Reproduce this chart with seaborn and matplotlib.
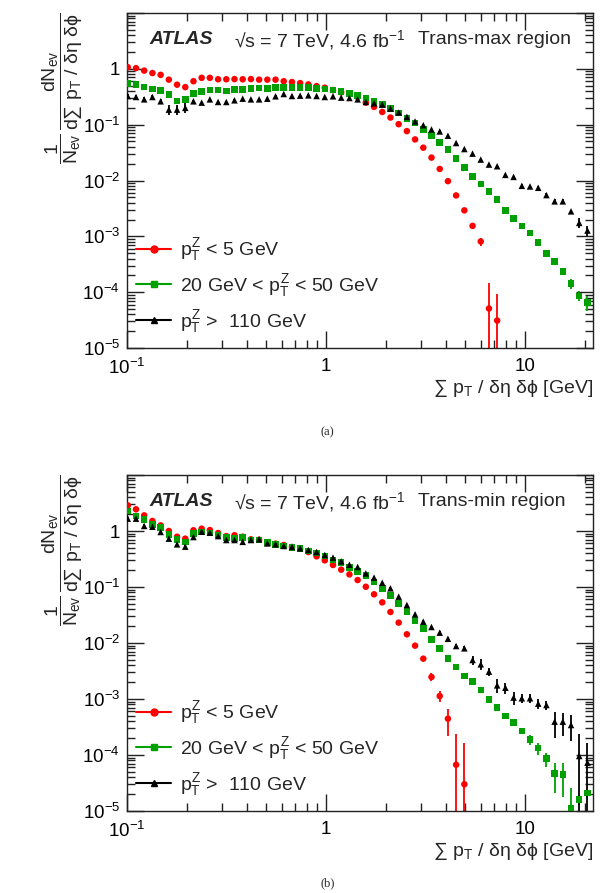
import numpy as np
import pandas as pd
import matplotlib
matplotlib.use("Agg")
import matplotlib.pyplot as plt
import seaborn as sns
from matplotlib.lines import Line2D
from matplotlib.ticker import LogLocator, FuncFormatter, NullFormatter

# ================= data =================
# bin centres of sum pT / deta dphi [GeV]
X_CENTRES = [0.1009, 0.1110, 0.1220, 0.1342, 0.1476, 0.1623, 0.1785, 0.1963, 0.2158, 0.2373,
             0.2609, 0.2870, 0.3156, 0.3470, 0.3816, 0.4196, 0.4614, 0.5074, 0.5579, 0.6135,
             0.6747, 0.7419, 0.8158, 0.8974, 0.9867, 1.085, 1.193, 1.312, 1.443, 1.587,
             1.745, 1.919, 2.110, 2.321, 2.552, 2.806, 3.086, 3.393, 3.732, 4.104,
             4.512, 4.963, 5.457, 6.001, 6.599, 7.256, 7.980, 8.774, 9.650, 10.61,
             11.67, 12.83, 14.11, 15.51, 17.06, 18.76, 20.64]

SERIES = ["low", "mid", "high"]
LABELS = [r"$p_{T}^{Z}$ < 5 GeV", r"20 GeV < $p_{T}^{Z}$ < 50 GeV", r"$p_{T}^{Z}$ >  110 GeV"]

# ---- (a) trans-max region ----
max_low = [1.07, 1.03, 0.93, 0.84, 0.78, 0.64, 0.52, 0.47, 0.60, 0.69,
           0.69, 0.65, 0.65, 0.655, 0.65, 0.655, 0.64, 0.64, 0.64, 0.60,
           0.58, 0.555, 0.526, 0.49, 0.46, 0.417, 0.38, 0.35, 0.313, 0.248,
           0.208, 0.169, 0.134, 0.102, 0.0766, 0.0544, 0.0387, 0.0257, 0.0161, 0.00973,
           0.0054, 0.00292, 0.00154, 0.00081, 5.1e-5, 3.1e-5]
max_mid = [0.541, 0.526, 0.472, 0.434, 0.406, 0.349, 0.266, 0.284, 0.359, 0.389,
           0.417, 0.417, 0.40, 0.423, 0.423, 0.447, 0.453, 0.447, 0.465, 0.465,
           0.465, 0.465, 0.459, 0.447, 0.434, 0.417, 0.389, 0.359, 0.331, 0.30,
           0.262, 0.229, 0.194, 0.163, 0.129, 0.108, 0.082, 0.0633, 0.0481, 0.0356,
           0.025, 0.017, 0.0119, 0.00873, 0.00629, 0.00453, 0.00292, 0.0021, 0.00152, 0.00115,
           0.00078, 0.00049, 0.000356, 0.000233, 0.000143, 8.6e-5, 6.5e-5]
max_high = [0.326, 0.313, 0.284, 0.313, 0.262, 0.186, 0.186, 0.20, 0.262, 0.248,
            0.284, 0.255, 0.255, 0.273, 0.292, 0.284, 0.284, 0.292, 0.322, 0.354,
            0.326, 0.331, 0.335, 0.326, 0.313, 0.322, 0.305, 0.30, 0.284, 0.255,
            0.241, 0.229, 0.194, 0.165, 0.138, 0.114, 0.098, 0.082, 0.0756, 0.0633,
            0.0469, 0.0366, 0.0303, 0.0237, 0.0193, 0.018, 0.0126, 0.0116, 0.00803, 0.00782,
            0.0074, 0.00548, 0.00423, 0.00423, 0.0028, 0.00174, 0.00127]
# relative uncertainties
max_low_err = [0.02, 0.02, 0.02, 0.02, 0.02, 0.02, 0.02, 0.02, 0.02, 0.02,
               0.02, 0.02, 0.02, 0.02, 0.02, 0.02, 0.02, 0.02, 0.02, 0.02,
               0.02, 0.02, 0.02, 0.02, 0.02, 0.02, 0.02, 0.02, 0.02, 0.02,
               0.02, 0.02, 0.02, 0.02, 0.02, 0.02, 0.02, 0.02, 0.02, 0.02,
               0.03, 0.04, 0.06, 0.16, 1.9, 2.0]
max_mid_err = [0.02, 0.02, 0.02, 0.02, 0.02, 0.02, 0.02, 0.02, 0.02, 0.02,
               0.02, 0.02, 0.02, 0.02, 0.02, 0.02, 0.02, 0.02, 0.02, 0.02,
               0.02, 0.02, 0.02, 0.02, 0.02, 0.02, 0.02, 0.02, 0.02, 0.02,
               0.02, 0.02, 0.02, 0.02, 0.02, 0.02, 0.02, 0.02, 0.02, 0.02,
               0.02, 0.02, 0.02, 0.02, 0.02, 0.02, 0.02, 0.02, 0.03, 0.03,
               0.04, 0.05, 0.06, 0.08, 0.19, 0.20, 0.30]
max_high_err = [0.08, 0.08, 0.08, 0.08, 0.08, 0.20, 0.20, 0.20, 0.04, 0.04,
                0.04, 0.04, 0.04, 0.04, 0.04, 0.04, 0.04, 0.04, 0.04, 0.04,
                0.04, 0.04, 0.04, 0.04, 0.04, 0.04, 0.04, 0.04, 0.04, 0.04,
                0.04, 0.04, 0.04, 0.04, 0.04, 0.04, 0.04, 0.04, 0.04, 0.04,
                0.04, 0.04, 0.04, 0.04, 0.04, 0.04, 0.05, 0.05, 0.06, 0.06,
                0.06, 0.08, 0.08, 0.08, 0.08, 0.20, 0.19]

# ---- (b) trans-min region ----
min_low = [2.87, 2.44, 1.90, 1.51, 1.26, 1.00, 0.79, 0.73, 1.03, 1.10,
           1.04, 0.92, 0.81, 0.84, 0.79, 0.71, 0.70, 0.628, 0.594, 0.562,
           0.518, 0.484, 0.422, 0.353, 0.299, 0.247, 0.204, 0.168, 0.133, 0.101,
           0.074, 0.0532, 0.0358, 0.0231, 0.0143, 0.00896, 0.00525, 0.00247, 0.00113, 0.000445,
           6.7e-5, 3.0e-5]
min_mid = [2.28, 1.85, 1.62, 1.32, 1.15, 0.87, 0.71, 0.64, 0.90, 0.96,
           0.93, 0.85, 0.76, 0.74, 0.76, 0.69, 0.69, 0.62, 0.578, 0.54,
           0.511, 0.49, 0.44, 0.405, 0.358, 0.303, 0.272, 0.221, 0.19, 0.159,
           0.123, 0.0933, 0.07, 0.051, 0.0363, 0.0254, 0.018, 0.0116, 0.00792, 0.00532,
           0.00373, 0.00258, 0.00204, 0.00145, 0.000987, 0.0007, 0.000497, 0.000378, 0.000268, 0.00019,
           0.000133, 8.6e-5, 4.7e-5, 4.5e-5, 1.1e-5, 1.6e-5, 2.1e-5]
min_high = [1.66, 1.66, 1.23, 1.19, 0.96, 0.73, 0.578, 0.525, 0.78, 0.97,
            0.93, 0.81, 0.69, 0.69, 0.64, 0.69, 0.71, 0.60, 0.578, 0.54,
            0.518, 0.49, 0.458, 0.422, 0.373, 0.334, 0.287, 0.25, 0.228, 0.175,
            0.147, 0.119, 0.0946, 0.0672, 0.0477, 0.0325, 0.024, 0.0193, 0.0153, 0.0119,
            0.00883, 0.00803, 0.00497, 0.00416, 0.00308, 0.00175, 0.00159, 0.00106, 0.00103, 0.00103,
            0.000826, 0.000781, 0.000394, 0.000394, 0.000343, 9.6e-5, 7.3e-5]
min_low_err = [0.02, 0.02, 0.02, 0.02, 0.02, 0.02, 0.02, 0.02, 0.02, 0.02,
               0.02, 0.02, 0.02, 0.02, 0.02, 0.02, 0.02, 0.02, 0.02, 0.02,
               0.02, 0.02, 0.02, 0.02, 0.02, 0.02, 0.02, 0.02, 0.02, 0.02,
               0.02, 0.02, 0.02, 0.02, 0.03, 0.04, 0.06, 0.16, 0.23, 0.51,
               2.5, 4.5]
min_mid_err = [0.02, 0.02, 0.02, 0.02, 0.02, 0.02, 0.02, 0.02, 0.02, 0.02,
               0.02, 0.02, 0.02, 0.02, 0.02, 0.02, 0.02, 0.02, 0.02, 0.02,
               0.02, 0.02, 0.02, 0.02, 0.02, 0.02, 0.02, 0.02, 0.02, 0.02,
               0.02, 0.02, 0.02, 0.02, 0.02, 0.02, 0.02, 0.02, 0.02, 0.02,
               0.02, 0.03, 0.03, 0.04, 0.04, 0.05, 0.06, 0.08, 0.10, 0.20,
               0.25, 0.28, 0.55, 0.60, 1.37, 0.20, 0.18]
min_high_err = [0.08, 0.08, 0.08, 0.08, 0.08, 0.08, 0.08, 0.08, 0.04, 0.04,
                0.04, 0.04, 0.04, 0.04, 0.04, 0.04, 0.04, 0.04, 0.04, 0.04,
                0.04, 0.04, 0.04, 0.04, 0.04, 0.04, 0.04, 0.04, 0.04, 0.04,
                0.04, 0.04, 0.04, 0.04, 0.05, 0.05, 0.06, 0.06, 0.07, 0.08,
                0.10, 0.10, 0.20, 0.22, 0.18, 0.28, 0.23, 0.26, 0.18, 0.18,
                0.20, 0.18, 0.49, 0.45, 0.49, 1.44, 1.28]

PANELS = [
    ("Trans-max region", (max_low, max_mid, max_high), (max_low_err, max_mid_err, max_high_err), "(a)", 84),
    ("Trans-min region", (min_low, min_mid, min_high), (min_low_err, min_mid_err, min_high_err), "(b)", 72),
]

COLORS = {"low": "#ff0000", "mid": "#00a000", "high": "#000000"}
MARKERS = {"low": "o", "mid": "s", "high": "^"}

# ================= style =================
sns.set_theme(style="ticks")
plt.rcParams.update({
    "font.family": ["Liberation Sans", "DejaVu Sans"],
    "font.size": 14,
    "mathtext.fontset": "custom",
    "mathtext.rm": "Liberation Sans",
    "mathtext.it": "Liberation Sans",
    "mathtext.bf": "Liberation Sans:bold",
    "axes.unicode_minus": False,
    "axes.edgecolor": "#222222",
    "axes.linewidth": 1.0,
})


def xfmt(v, pos):
    e = int(round(np.log10(v)))
    if e == 0:
        return "1"
    if e == 1:
        return "10"
    return r"$10^{%d}$" % e


def yfmt(v, pos):
    e = int(round(np.log10(v)))
    if e == 0:
        return "1"
    if e >= 1:
        return ""
    return r"$10^{%d}$" % e


W, H = 609, 893
fig = plt.figure(figsize=(W / 100, H / 100), dpi=100)
axes = [fig.add_axes([127 / W, 1 - 348 / H, 466 / W, 335 / H]),
        fig.add_axes([127 / W, 1 - 811 / H, 466 / W, 336 / H])]

for ax, (region, values, errors, tag, tag_off) in zip(axes, PANELS):
    rows = []
    for name, yv, ev in zip(SERIES, values, errors):
        for xv, yy, ee in zip(X_CENTRES, yv, ev):
            rows.append({"x": xv, "y": yy, "err": ee, "series": name})
    df = pd.DataFrame(rows)

    # error bars first, then markers on top
    for name in SERIES:
        d = df[df["series"] == name]
        lo = d["y"] * np.minimum(d["err"], 0.99999)
        hi = d["y"] * d["err"]
        ax.errorbar(d["x"], d["y"], yerr=[lo, hi], fmt="none",
                    ecolor=COLORS[name], elinewidth=1.3, capsize=0, zorder=2)

    sns.scatterplot(data=df, x="x", y="y", hue="series", style="series",
                    palette=COLORS, markers=MARKERS, s=22, linewidth=0,
                    legend=False, ax=ax, zorder=3)

    ax.set_xscale("log")
    ax.set_yscale("log")
    ax.set_xlim(0.1, 22)
    ax.set_ylim(1e-5, 10)
    ax.set_xlabel("")
    ax.set_ylabel("")

    ax.xaxis.set_major_locator(LogLocator(base=10))
    ax.xaxis.set_minor_locator(LogLocator(base=10, subs=np.arange(2, 10)))
    ax.yaxis.set_major_locator(LogLocator(base=10, numticks=10))
    ax.yaxis.set_minor_locator(LogLocator(base=10, subs=np.arange(2, 10), numticks=10))
    ax.xaxis.set_major_formatter(FuncFormatter(xfmt))
    ax.yaxis.set_major_formatter(FuncFormatter(yfmt))
    ax.xaxis.set_minor_formatter(NullFormatter())
    ax.yaxis.set_minor_formatter(NullFormatter())
    ax.tick_params(which="both", direction="in", top=True, right=True,
                   colors="#222222", labelcolor="black", labelsize=13.5)
    ax.tick_params(which="major", length=12, width=1.0)
    ax.tick_params(which="minor", length=6, width=1.0)
    ax.tick_params(axis="x", which="major", pad=7)
    ax.tick_params(axis="y", which="major", pad=5)

    # axis titles, ROOT style
    ax.text(1.0, -40 / 335, "\u2211 p$_{T}$ / \u03b4\u03b7 \u03b4\u03d5 [GeV]",
            transform=ax.transAxes, ha="right", va="center", fontsize=14)
    ax.text(-0.092, 1.0,
            r"$\dfrac{1}{N_{ev}}\,\dfrac{dN_{ev}}{d\sum\ p_{T}\ /\ \delta\eta\ \delta\phi}$",
            transform=ax.transAxes, rotation=90, ha="right", va="top", fontsize=14)

    # header
    ax.text(0.049, 0.92, "ATLAS", transform=ax.transAxes, ha="left", va="center",
            fontsize=14, fontweight="bold", fontstyle="italic")
    ax.text(0.23, 0.92, "\u221as = 7 TeV, 4.6 fb$^{-1}$", transform=ax.transAxes,
            ha="left", va="center", fontsize=14)
    ax.text(0.625, 0.92, region, transform=ax.transAxes, ha="left", va="center", fontsize=14)

    handles = [Line2D([], [], color=COLORS[n], marker=MARKERS[n], markersize=5, lw=1.5)
               for n in SERIES]
    ax.legend(handles, LABELS, loc="lower left", bbox_to_anchor=(0.02, 0.04),
              frameon=False, fontsize=14, handlelength=1.8, handletextpad=0.45,
              labelspacing=0.45, borderpad=0, borderaxespad=0)

    ax.text(0.43, -tag_off / 335, tag, transform=ax.transAxes, ha="center", va="center",
            fontsize=9, family="Liberation Serif")

fig.savefig("out.png", dpi=100)
